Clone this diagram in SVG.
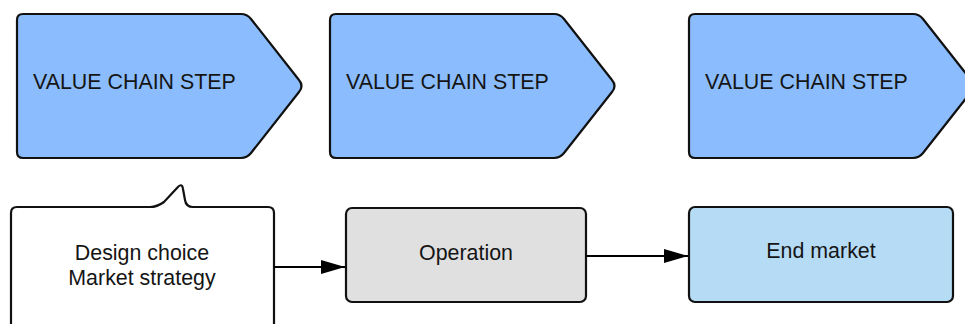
<svg xmlns="http://www.w3.org/2000/svg" width="965" height="324" viewBox="0 0 965 324">
  <style>
    .step { fill: #8bbdfe; stroke: #111; stroke-width: 2.2; stroke-linejoin: round; }
    .box { stroke: #111; stroke-width: 2.2; }
    .lbl { font-family: "Liberation Sans", Arial, sans-serif; font-size: 21.4px; fill: #151515; }
    .mid { text-anchor: middle; }
    .conn { stroke: #000; stroke-width: 2; fill: none; }
  </style>
  <defs>
    <path id="pent" d="M 23 14 H 241 Q 247 14 251 19 L 299 80 Q 304 86 299 92 L 251 153 Q 247 158 241 158 H 23 Q 17 158 17 152 V 20 Q 17 14 23 14 Z"/>
    <marker id="arr" viewBox="0 0 24 14" refX="24" refY="7" markerWidth="24" markerHeight="14" markerUnits="userSpaceOnUse" orient="auto">
      <path d="M 0 0 L 24 7 L 0 14 Z" fill="#000"/>
    </marker>
  </defs>
  <rect width="965" height="324" fill="#fff"/>

  <g id="step1">
    <use href="#pent" class="step"/>
    <text class="lbl" x="33" y="89">VALUE CHAIN STEP</text>
  </g>
  <g id="step2" transform="translate(313,0)">
    <use href="#pent" class="step"/>
    <text class="lbl" x="33" y="89">VALUE CHAIN STEP</text>
  </g>
  <g id="step3" transform="translate(672,0)">
    <use href="#pent" class="step"/>
    <text class="lbl" x="33" y="89">VALUE CHAIN STEP</text>
  </g>

  <g id="callout">
    <path class="box" fill="#ffffff" d="M 17 207 H 150 Q 157 207 164 202 L 177 188 Q 182 182 183 189 L 185 200 Q 186 207 193 207 H 268 Q 274 207 274 213 V 332 H 11 V 213 Q 11 207 17 207 Z"/>
    <text class="lbl mid" x="142" y="260">Design choice</text>
    <text class="lbl mid" x="142" y="285">Market strategy</text>
  </g>

  <g id="operation">
    <rect class="box" x="346" y="208" width="240" height="94" rx="6" fill="#e0e0e0"/>
    <text class="lbl mid" x="466" y="260">Operation</text>
  </g>

  <g id="endmarket">
    <rect class="box" x="689" y="207" width="264" height="95" rx="6" fill="#b6dcf5"/>
    <text class="lbl mid" x="821" y="258">End market</text>
  </g>

  <g id="connectors">
    <line class="conn" x1="274" y1="267" x2="345" y2="267" marker-end="url(#arr)"/>
    <line class="conn" x1="586" y1="256" x2="688" y2="256" marker-end="url(#arr)"/>
  </g>
</svg>
